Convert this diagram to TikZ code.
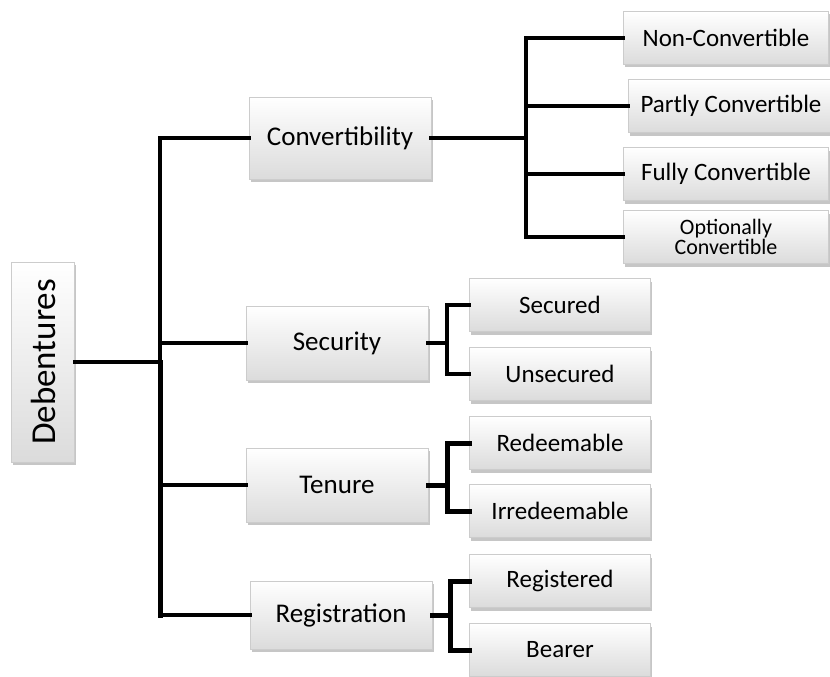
\documentclass[tikz,border=0pt]{standalone}
\usepackage{fontspec}
\setmainfont{Carlito}
\usetikzlibrary{positioning,shadows}
\tikzset{
x=1pt, y=-1pt, % pixel-like units, y grows downwards
box/.style={draw=gray!40, top color=white, bottom color=gray!28, drop shadow={opacity=0.45, shadow xshift=1.5pt, shadow yshift=-3pt}}, % shaded card with shadow
rootbox/.style={box, minimum width=63pt, minimum height=200pt, font=\fontsize{35}{37}\selectfont}, % the vertical root card
midbox/.style={box, minimum width=182pt, minimum height=74pt, font=\fontsize{27}{29}\selectfont}, % second level cards
leafbox/.style={box, minimum width=181pt, minimum height=53pt, font=\fontsize{25}{27}\selectfont}, % right hand cards
wide/.style={minimum width=205pt}, % wider cards for the convertibility group
link/.style={line width=3.5pt, line cap=rect}, % connector lines
}
\begin{document}
\begin{tikzpicture}
\useasboundingbox (0,0) rectangle (830,677);
% root
\node[rootbox] (deb) at (43,362) {\rotatebox{90}{Debentures}};
% second level
\node[midbox, minimum height=82pt] (conv) at (340,138) {Convertibility};
\node[midbox] (secu) at (337,343) {Security};
\node[midbox] (tenu) at (337,485) {Tenure};
\node[midbox, minimum height=68pt] (regi) at (341,615) {Registration};
% convertibility group
\node[leafbox, wide] (nonc) at (726,38) {Non-Convertible};
\node[leafbox, wide] (part) at (731,106) {Partly Convertible};
\node[leafbox, wide] (full) at (726,174) {Fully Convertible};
\node[leafbox, wide, align=center, font=\fontsize{22}{20}\selectfont] (opti) at (726,237) {Optionally\\Convertible};
% other groups
\node[leafbox] (secd) at (560,305) {Secured};
\node[leafbox] (unsd) at (560,374) {Unsecured};
\node[leafbox] (rede) at (560,443) {Redeemable};
\node[leafbox] (irre) at (560,511) {Irredeemable};
\node[leafbox] (regd) at (560,581) {Registered};
\node[leafbox] (bear) at (560,650) {Bearer};
% buses
\coordinate (mbus) at (160,362);
\coordinate (cbus) at (526,138);
\coordinate (sbus) at (447,343);
\coordinate (tbus) at (447,485);
\coordinate (rbus) at (450,615);
% connectors
\draw[link] (deb.east) -- (mbus);
\draw[link] (mbus) |- (conv.west);
\draw[link] (mbus) |- (regi.west);
\draw[link, line width=5pt] (mbus) -- (mbus|-regi.west);
\draw[link] (mbus|-secu.west) -- (secu.west);
\draw[link] (mbus|-tenu.west) -- (tenu.west);
\draw[link] (conv.east) -- (cbus);
\draw[link] (cbus) |- (nonc.west);
\draw[link] (cbus) |- (opti.west);
\draw[link] (cbus|-part.west) -- (part.west);
\draw[link] (cbus|-full.west) -- (full.west);
\draw[link] (secu.east) -- (sbus);
\draw[link] (sbus) |- (secd.west);
\draw[link] (sbus) |- (unsd.west);
\draw[link, line width=5pt] (tenu.east) -- (tbus);
\draw[link, line width=5pt] (tbus) |- (rede.west);
\draw[link, line width=5pt] (tbus) |- (irre.west);
\draw[link, line width=5pt] (regi.east) -- (rbus);
\draw[link, line width=5pt] (rbus) |- (regd.west);
\draw[link, line width=5pt] (rbus) |- (bear.west);
\end{tikzpicture}
\end{document}
